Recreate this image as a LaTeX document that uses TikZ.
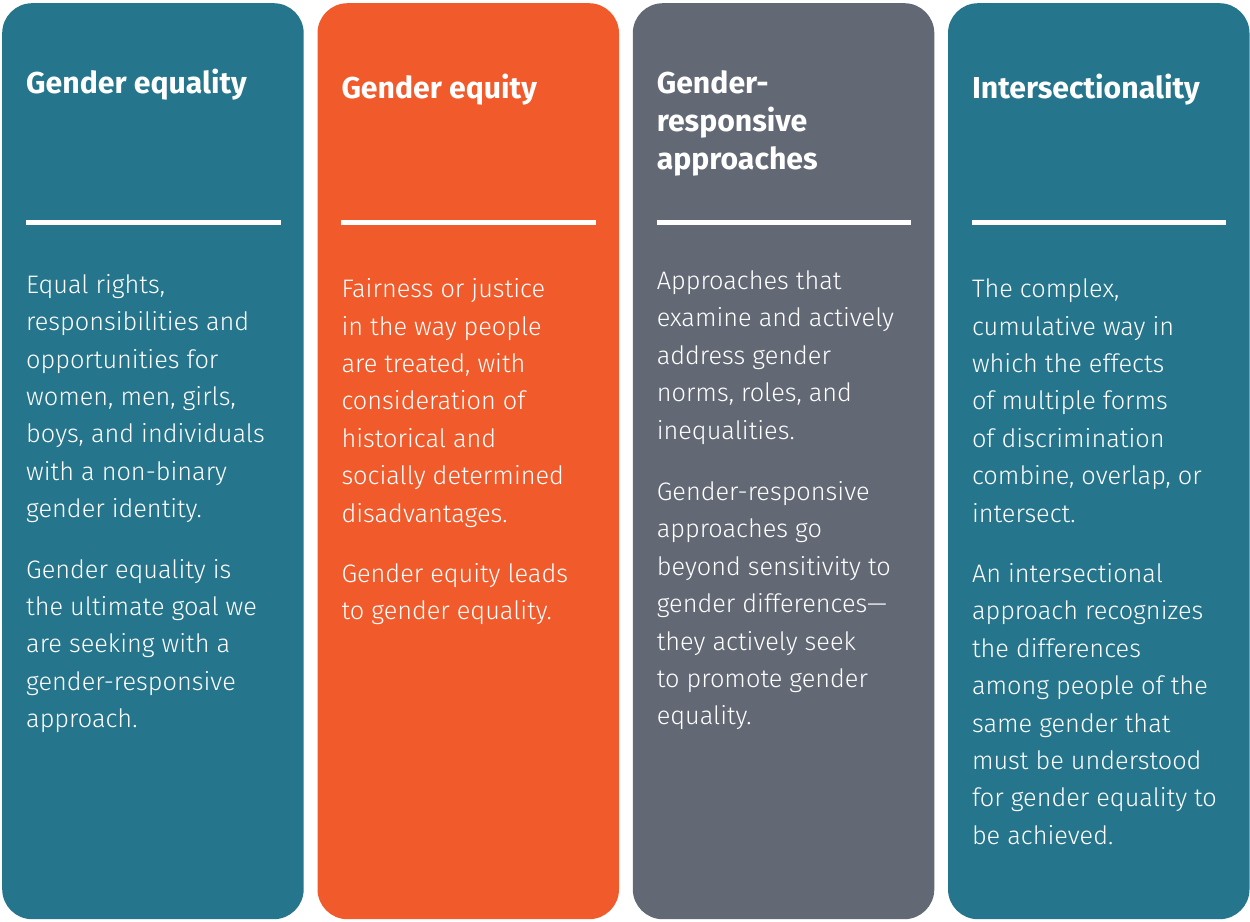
\documentclass[tikz,border=0pt]{standalone}
\usepackage{fontspec}
\newfontfamily\bodyfont{Fira Sans Light}
\newfontfamily\titlefont{Fira Sans Bold}
\definecolor{cteal}{HTML}{25758C}
\definecolor{corange}{HTML}{F15A2B}
\definecolor{cgrey}{HTML}{626874}
\tikzset{
  panel/.style={rounded corners=30pt, draw=none, anchor=north west, minimum width=301.5pt, minimum height=916pt, inner sep=0pt},
  rulebar/.style={draw=white, line width=4.5pt},
  body/.style={anchor=north west, inner sep=0pt, text=white, align=left, font=\bodyfont\fontsize{25.3}{37.4}\selectfont},
  title/.style={anchor=north west, inner sep=0pt, text=white, align=left, font=\titlefont\fontsize{30.2}{37.7}\selectfont},
}
\begin{document}
\begin{tikzpicture}[x=1pt,y=-1pt]
\path[use as bounding box, fill=white] (0,0) rectangle (1250,921);
% panels
\node[panel, fill=cteal] (p1) at (2,3) {};
\node[panel, fill=corange] (p2) at (317.3,3) {};
\node[panel, fill=cgrey] (p3) at (632.6,3) {};
\node[panel, fill=cteal] (p4) at (947.8,3) {};
% rules
\coordinate (r1a) at (26,222.5); \coordinate (r1b) at (280.5,222.5);
\coordinate (r2a) at (341.3,222.5); \coordinate (r2b) at (595.8,222.5);
\coordinate (r3a) at (656.6,222.5); \coordinate (r3b) at (911.1,222.5);
\coordinate (r4a) at (971.8,222.5); \coordinate (r4b) at (1226.3,222.5);
\draw[rulebar] (r1a) -- (r1b);
\draw[rulebar] (r2a) -- (r2b);
\draw[rulebar] (r3a) -- (r3b);
\draw[rulebar] (r4a) -- (r4b);
% titles
\node[title] (t1) at (26,69.2) {\rule{0pt}{20pt}Gender equality};
\node[title] (t2) at (341.3,74.2) {\rule{0pt}{20pt}Gender equity};
\node[title] (t3) at (656.6,70.5) {\rule{0pt}{20pt}Gender-\\responsive\\approaches};
\node[title] (t4) at (971.8,74.2) {\rule{0pt}{20pt}Intersectionality};
% bodies
\node[body] (b1) at (26,273) {\rule{0pt}{20pt}Equal rights,\\responsibilities and\\opportunities for\\women, men, girls,\\boys, and individuals\\with a non-binary\\gender identity.\\[23pt]Gender equality is\\the ultimate goal we\\are seeking with a\\gender-responsive\\approach.};
\node[body] (b2) at (341.3,277.5) {\rule{0pt}{20pt}Fairness or justice\\in the way people\\are treated, with\\consideration of\\historical and\\socially determined\\disadvantages.\\[23pt]Gender equity leads\\to gender equality.};
\node[body] (b3) at (656.6,269.3) {\rule{0pt}{20pt}Approaches that\\examine and actively\\address gender\\norms, roles, and\\inequalities.\\[24pt]Gender-responsive\\approaches go\\beyond sensitivity to\\gender differences—\\they actively seek\\to promote gender\\equality.};
\node[body] (b4) at (971.8,277.5) {\rule{0pt}{20pt}The complex,\\cumulative way in\\which the effects\\of multiple forms\\of discrimination\\combine, overlap, or\\intersect.\\[23pt]An intersectional\\approach recognizes\\the differences\\among people of the\\same gender that\\must be understood\\for gender equality to\\be achieved.};
\end{tikzpicture}
\end{document}
